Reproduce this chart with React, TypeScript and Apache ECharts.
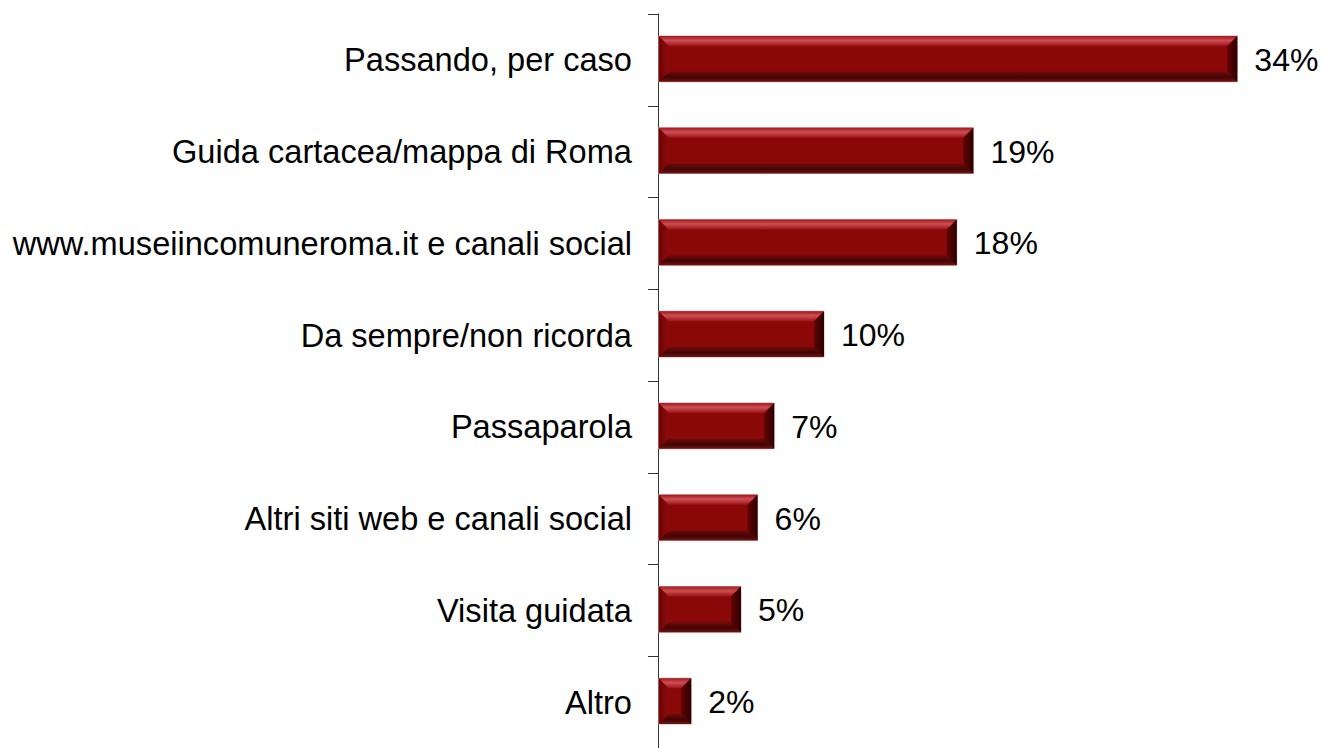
import React, { useEffect, useRef } from "react";
import * as echarts from "echarts";

const categories = [
  "Passando, per caso",
  "Guida cartacea/mappa di Roma",
  "www.museiincomuneroma.it e canali social",
  "Da sempre/non ricorda",
  "Passaparola",
  "Altri siti web e canali social",
  "Visita guidata",
  "Altro",
];
const values = [34.9, 19, 18, 10, 7, 6, 5, 2];
const valueLabels = ["34%", "19%", "18%", "10%", "7%", "6%", "5%", "2%"];

export default function App() {
  const ref = useRef<HTMLDivElement>(null);
  useEffect(() => {
    document.body.style.margin = "0";
    const chart = echarts.init(ref.current!, null, { renderer: "svg" });
    const font = "'Liberation Sans', Arial, sans-serif";
    chart.setOption({
      animation: false,
      backgroundColor: "#ffffff",
      grid: { left: 658, top: 14, width: 664, height: 741 },
      xAxis: {
        type: "value",
        min: 0,
        max: 40,
        show: false,
      },
      yAxis: {
        type: "category",
        data: categories,
        inverse: true,
        axisLine: { show: true, lineStyle: { color: "#333", width: 1 } },
        axisTick: { show: true, length: 10, lineStyle: { color: "#333" } },
        axisLabel: { margin: 26, fontSize: 32.6, color: "#000", fontFamily: font },
        splitLine: { show: false },
      },
      series: [
        {
          type: "custom",
          encode: { x: 0, y: 1 },
          data: values.map((v, i) => [v, i]),
          renderItem: (params: any, api: any) => {
            const v = api.value(0);
            const idx = api.value(1);
            const s = api.coord([0, idx]);
            const e = api.coord([v, idx]);
            const band = api.size([0, 1])[1];
            const h = band * 0.5;
            const x0 = s[0] + 0.5;
            const x1 = e[0];
            const y0 = s[1] - h / 2 - 1;
            const y1 = y0 + h;
            const b = Math.min(10, (x1 - x0) / 2);
            return {
              type: "group",
              children: [
                {
                  type: "rect",
                  shape: { x: x0, y: y0, width: x1 - x0, height: y1 - y0 },
                  style: { fill: "#8a0808", stroke: "#dcaaaa", lineWidth: 1 },
                },
                {
                  type: "polygon",
                  shape: { points: [[x0, y0], [x1, y0], [x1 - b, y0 + b], [x0 + b, y0 + b]] },
                  style: {
                    fill: new echarts.graphic.LinearGradient(0, 0, 0, 1, [
                      { offset: 0, color: "#a0161b" },
                      { offset: 0.45, color: "#cc4f54" },
                      { offset: 1, color: "#9c1418" },
                    ]),
                  },
                },
                {
                  type: "polygon",
                  shape: { points: [[x0, y1], [x1, y1], [x1 - b, y1 - b], [x0 + b, y1 - b]] },
                  style: {
                    fill: new echarts.graphic.LinearGradient(0, 0, 0, 1, [
                      { offset: 0, color: "#700a0a" },
                      { offset: 0.55, color: "#420404" },
                      { offset: 1, color: "#6e1414" },
                    ]),
                  },
                },
                {
                  type: "polygon",
                  shape: { points: [[x0, y0], [x0 + b, y0 + b], [x0 + b, y1 - b], [x0, y1]] },
                  style: {
                    fill: new echarts.graphic.LinearGradient(0, 0, 1, 0, [
                      { offset: 0, color: "#6a0404" },
                      { offset: 1, color: "#8e0a0a" },
                    ]),
                  },
                },
                {
                  type: "polygon",
                  shape: { points: [[x1, y0], [x1, y1], [x1 - b, y1 - b], [x1 - b, y0 + b]] },
                  style: {
                    fill: new echarts.graphic.LinearGradient(0, 0, 1, 0, [
                      { offset: 0, color: "#620404" },
                      { offset: 1, color: "#2a0000" },
                    ]),
                  },
                },
                {
                  type: "text",
                  style: {
                    x: x1 + 17,
                    y: s[1],
                    text: valueLabels[idx],
                    fill: "#000",
                    fontSize: 32,
                    fontFamily: font,
                    verticalAlign: "middle",
                    align: "left",
                  },
                },
              ],
            };
          },
        },
      ],
    });
    return () => chart.dispose();
  }, []);
  return <div ref={ref} style={{ width: 1326, height: 748 }} />;
}
